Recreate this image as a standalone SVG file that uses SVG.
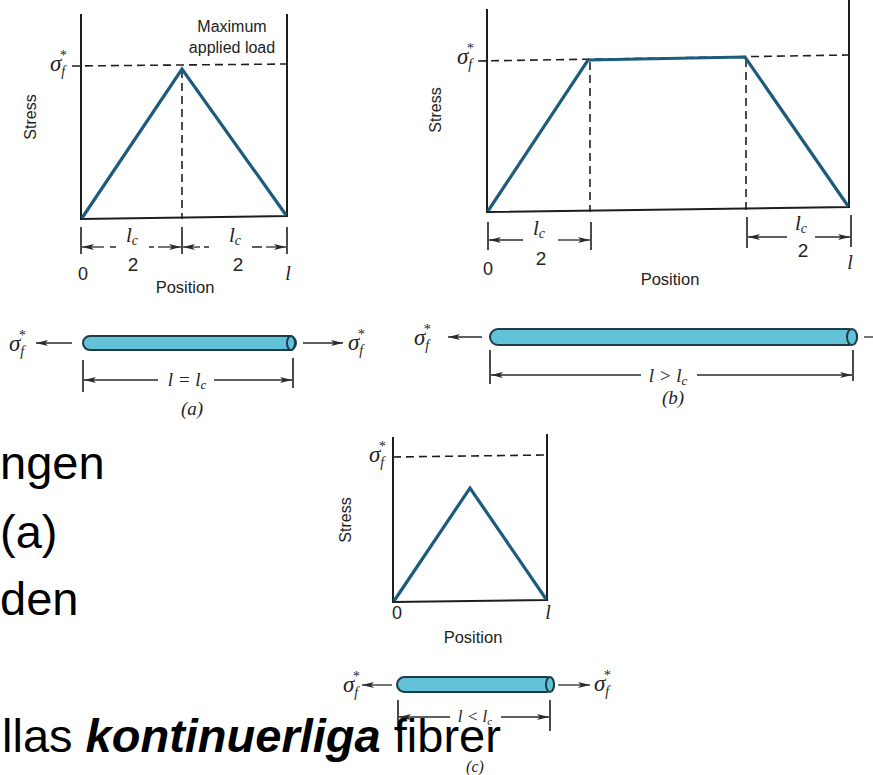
<svg xmlns="http://www.w3.org/2000/svg" width="873" height="775" viewBox="0 0 873 775">
<defs>
<style>
.ax{stroke:#1e1e1e;stroke-width:2;fill:none;stroke-linecap:square}
.dash{stroke:#1e1e1e;stroke-width:1.6;fill:none;stroke-dasharray:8 5}
.curve{stroke:#1d5b7c;stroke-width:3.2;fill:none;stroke-linejoin:miter}
.tick{stroke:#1e1e1e;stroke-width:1.6;fill:none}
.dim{stroke:#2a2a2a;stroke-width:1.3;fill:none}
.fib{fill:#63c2d8;stroke:#1c3c48;stroke-width:2}
.sans{font-family:"Liberation Sans",Arial,sans-serif;fill:#222}
.ser{font-family:"Liberation Serif","Times New Roman",serif;font-style:italic;fill:#222}
.sig{font-family:"Liberation Serif","Times New Roman",serif;font-style:italic;font-size:23px;fill:#222}
.sm{font-size:14px}
.slide{font-family:"Liberation Sans",Arial,sans-serif;font-size:47px;fill:#000}
</style>
<marker id="ah" viewBox="0 0 12 6" refX="12" refY="3" markerWidth="12" markerHeight="6" orient="auto-start-reverse" markerUnits="userSpaceOnUse">
<path d="M0,0 L12,3 L0,6 L3,3z" fill="#2a2a2a"/>
</marker>
</defs>
<rect width="873" height="775" fill="#ffffff"/>

<g id="panel-a">
<path class="dash" d="M72,66 L287,64"/>
<path class="dash" d="M182,70 L182,219"/>
<path class="ax" d="M81,15 L81,219 L287,216 L287,15"/>
<path class="curve" d="M82,218 L182,69 L286,215"/>
<text class="sig" x="50" y="71">σ<tspan class="sm" dy="5">f</tspan><tspan class="sm" dx="-6" dy="-16">*</tspan></text>
<text class="sans" x="232" y="32" font-size="16" text-anchor="middle">Maximum</text>
<text class="sans" x="232" y="53" font-size="16" text-anchor="middle">applied load</text>
<text class="sans" transform="translate(36,117) rotate(-90)" font-size="16" text-anchor="middle">Stress</text>
<path class="tick" d="M81,227 L81,254 M182,227 L182,254 M287,227 L287,254"/>
<text class="ser" x="126" y="242" font-size="21">l<tspan font-size="14" dy="3">c</tspan></text>
<text class="sans" x="133" y="271" font-size="19" text-anchor="middle">2</text>
<text class="ser" x="229" y="242" font-size="21">l<tspan font-size="14" dy="3">c</tspan></text>
<text class="sans" x="238" y="271" font-size="19" text-anchor="middle">2</text>
<text class="sans" x="83" y="280" font-size="18" text-anchor="middle">0</text>
<text class="ser" x="288" y="280" font-size="20" text-anchor="middle">l</text>
<text class="sans" x="185" y="293" font-size="16.5" text-anchor="middle">Position</text>
</g>

<g id="panel-b">
<path class="dash" d="M478,61 L848,55"/>
<path class="dash" d="M590,62 L590,212"/>
<path class="dash" d="M746,59 L746,210"/>
<path class="ax" d="M487,10 L487,212 L849,207 L849,0"/>
<path class="curve" d="M488,211 L588,60 L745,57 L848,206"/>
<text class="sig" x="457" y="64">σ<tspan class="sm" dy="5">f</tspan><tspan class="sm" dx="-6" dy="-16">*</tspan></text>
<text class="sans" transform="translate(441,110) rotate(-90)" font-size="16" text-anchor="middle">Stress</text>
<path class="tick" d="M488,222 L488,250 M591,222 L591,250 M747,217 L747,248 M851,215 L851,247"/>
<text class="ser" x="533" y="235" font-size="21">l<tspan font-size="14" dy="3">c</tspan></text>
<text class="sans" x="541" y="265" font-size="19" text-anchor="middle">2</text>
<text class="ser" x="795" y="230" font-size="21">l<tspan font-size="14" dy="3">c</tspan></text>
<text class="sans" x="803" y="257" font-size="19" text-anchor="middle">2</text>
<text class="sans" x="488" y="275" font-size="18" text-anchor="middle">0</text>
<text class="ser" x="850" y="269" font-size="20" text-anchor="middle">l</text>
<text class="sans" x="670" y="285" font-size="16.5" text-anchor="middle">Position</text>
</g>

<g id="panel-c">
<path class="dash" d="M393,457 L547,455"/>
<path class="ax" d="M393,438 L393,602 L547,600 L547,435"/>
<path class="curve" d="M394,601 L470,488 L546,599"/>
<text class="sig" x="369" y="462">σ<tspan class="sm" dy="5">f</tspan><tspan class="sm" dx="-6" dy="-16">*</tspan></text>
<text class="sans" transform="translate(351,520) rotate(-90)" font-size="16" text-anchor="middle">Stress</text>
<text class="sans" x="397" y="619" font-size="18" text-anchor="middle">0</text>
<text class="ser" x="548" y="619" font-size="20" text-anchor="middle">l</text>
<text class="sans" x="473" y="643" font-size="16.5" text-anchor="middle">Position</text>
</g>

<g id="fiber-a">
<rect class="fib" x="83" y="336" width="213" height="14" rx="7"/>
<ellipse class="fib" cx="291" cy="343" rx="4" ry="7"/>
<text class="sig" x="9" y="351">σ<tspan class="sm" dy="5">f</tspan><tspan class="sm" dx="-6" dy="-16">*</tspan></text>
<text class="sig" x="348" y="350">σ<tspan class="sm" dy="5">f</tspan><tspan class="sm" dx="-6" dy="-16">*</tspan></text>
<path class="tick" d="M83,360 L83,392 M293,358 L293,388"/>
<text class="ser" x="187" y="386" font-size="19" text-anchor="middle">l = l<tspan font-size="13" dy="3">c</tspan></text>
<text class="ser" x="192" y="415" font-size="19" text-anchor="middle">(a)</text>
</g>

<g id="fiber-b">
<rect class="fib" x="490" y="329" width="367" height="16" rx="8"/>
<ellipse class="fib" cx="852" cy="337" rx="5" ry="8"/>
<text class="sig" x="414" y="345">σ<tspan class="sm" dy="5">f</tspan><tspan class="sm" dx="-6" dy="-16">*</tspan></text>
<path class="tick" d="M490,350 L490,384 M853,350 L853,381"/>
<text class="ser" x="668" y="382" font-size="19" text-anchor="middle">l &gt; l<tspan font-size="13" dy="3">c</tspan></text>
<text class="ser" x="673" y="404" font-size="19" text-anchor="middle">(b)</text>
</g>

<g id="fiber-c">
<rect class="fib" x="397" y="677" width="157" height="15" rx="7.5"/>
<ellipse class="fib" cx="550" cy="684.5" rx="4" ry="7.5"/>
<text class="sig" x="343" y="692">σ<tspan class="sm" dy="5">f</tspan><tspan class="sm" dx="-6" dy="-16">*</tspan></text>
<text class="sig" x="594" y="691">σ<tspan class="sm" dy="5">f</tspan><tspan class="sm" dx="-6" dy="-16">*</tspan></text>
<path class="tick" d="M398,700 L398,731 M550,700 L550,731"/>
<text class="ser" x="475" y="722" font-size="17" text-anchor="middle">l &lt; l<tspan font-size="11" dy="3">c</tspan></text>
<text class="ser" x="475" y="772" font-size="16" text-anchor="middle">(c)</text>
</g>

<g id="connectors">
<path class="dim" marker-start="url(#ah)" d="M82,247 L104,247"/>
<path class="dim" d="M110,247 L116,247 M149,247 L154,247"/>
<path class="dim" marker-end="url(#ah)" d="M158,247 L181,247"/>
<path class="dim" marker-start="url(#ah)" d="M183,247 L200,247"/>
<path class="dim" d="M204,247 L209,247 M252,247 L262,247"/>
<path class="dim" marker-end="url(#ah)" d="M266,247 L286,247"/>
<path class="dim" marker-start="url(#ah)" d="M489,240 L523,240"/>
<path class="dim" marker-end="url(#ah)" d="M558,240 L590,240"/>
<path class="dim" marker-start="url(#ah)" d="M748,237 L787,237"/>
<path class="dim" marker-end="url(#ah)" d="M815,237 L850,237"/>
<path class="dim" marker-end="url(#ah)" d="M72,343 L36,343"/>
<path class="dim" marker-end="url(#ah)" d="M303,343 L343,343"/>
<path class="dim" marker-start="url(#ah)" d="M84,380 L158,380"/>
<path class="dim" marker-end="url(#ah)" d="M214,380 L292,380"/>
<path class="dim" marker-end="url(#ah)" d="M482,337 L448,337"/>
<path class="dim" d="M864,337 L873,337"/>
<path class="dim" marker-start="url(#ah)" d="M491,375 L641,375"/>
<path class="dim" marker-end="url(#ah)" d="M697,375 L852,375"/>
<path class="dim" marker-end="url(#ah)" d="M392,685 L362,685"/>
<path class="dim" marker-end="url(#ah)" d="M558,685 L590,685"/>
<path class="dim" marker-start="url(#ah)" d="M399,717 L450,717"/>
<path class="dim" marker-end="url(#ah)" d="M501,717 L549,717"/>
</g>

<g id="slide-text">
<text class="slide" x="0" y="479">ngen</text>
<text class="slide" x="0" y="548">(a)</text>
<text class="slide" x="0" y="615">den</text>
<text class="slide" x="2" y="752">llas <tspan font-weight="bold" font-style="italic">kontinuerliga</tspan> fibrer</text>
</g>
</svg>
